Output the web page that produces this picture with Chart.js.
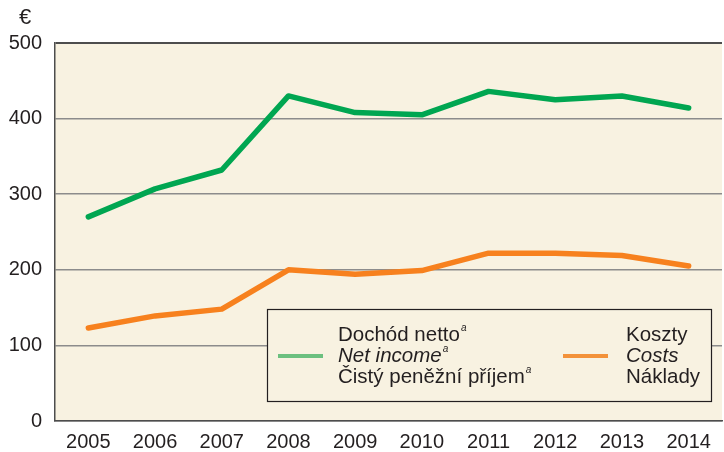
<!DOCTYPE html>
<html>
<head>
<meta charset="utf-8">
<script src="https://cdn.jsdelivr.net/npm/chart.js@4"></script>
<style>
  html, body { margin: 0; padding: 0; background: #fff; }
  #wrap { width: 724px; height: 452px; }
</style>
</head>
<body>
<div id="wrap"><canvas id="chart"></canvas></div>
<script>
// Dane
const years = ['2005', '2006', '2007', '2008', '2009', '2010', '2011', '2012', '2013', '2014'];
const netIncome = [270, 307, 332, 430, 408, 405, 436, 425, 430, 414];
const costs = [123, 139, 148, 200, 194, 199, 222, 222, 219, 205];
const yTicks = [0, 100, 200, 300, 400, 500];

const textColor = '#231f20';
const bgColor = '#f8f2e1';
const greenColor = '#00a651';
const orangeColor = '#f7811e';
const fontName = '"Liberation Sans", Arial, sans-serif';

// tło obszaru wykresu + symbol waluty
const backgroundPlugin = {
  id: 'background',
  beforeDraw(chart) {
    const { ctx, chartArea } = chart;
    ctx.save();
    ctx.fillStyle = bgColor;
    ctx.fillRect(chartArea.left, chartArea.top, chartArea.right - chartArea.left, chartArea.bottom - chartArea.top);
    ctx.fillStyle = textColor;
    ctx.font = '22px ' + fontName;
    ctx.textAlign = 'center';
    ctx.textBaseline = 'middle';
    ctx.fillText('€', 25, chartArea.top - 25);
    ctx.restore();
  }
};

// legenda w ramce (rysowana ręcznie)
function drawSup(ctx, x, y, text) {
  ctx.save();
  ctx.font = 'italic 10px ' + fontName;
  ctx.fillText(text, x + 1, y - 10);
  ctx.restore();
}

const legendPlugin = {
  id: 'boxLegend',
  afterDatasetsDraw(chart) {
    const { ctx, chartArea } = chart;
    const left = chartArea.left + 212, top = chartArea.top + 266;
    const w = 444, h = 92;
    ctx.save();
    ctx.fillStyle = bgColor;
    ctx.fillRect(left, top, w, h);
    ctx.strokeStyle = '#231f20';
    ctx.lineWidth = 1.2;
    ctx.strokeRect(left + 0.5, top + 0.5, w, h);

    ctx.lineWidth = 4;
    ctx.strokeStyle = '#6cc07f';
    ctx.beginPath();
    ctx.moveTo(left + 11, top + 47);
    ctx.lineTo(left + 56, top + 47);
    ctx.stroke();
    ctx.strokeStyle = '#f3923a';
    ctx.beginPath();
    ctx.moveTo(left + 296, top + 47);
    ctx.lineTo(left + 341, top + 47);
    ctx.stroke();

    ctx.fillStyle = textColor;
    ctx.textAlign = 'left';
    ctx.textBaseline = 'alphabetic';
    const x1 = left + 71, x2 = left + 359;
    const b = [top + 32, top + 53, top + 74];
    const sz = '20.5px ';
    ctx.font = sz + fontName;
    ctx.fillText('Dochód netto', x1, b[0]);
    drawSup(ctx, x1 + ctx.measureText('Dochód netto').width, b[0], 'a');
    ctx.font = 'italic ' + sz + fontName;
    ctx.fillText('Net income', x1, b[1]);
    drawSup(ctx, x1 + ctx.measureText('Net income').width, b[1], 'a');
    ctx.font = sz + fontName;
    ctx.fillText('Čistý peněžní příjem', x1, b[2]);
    drawSup(ctx, x1 + ctx.measureText('Čistý peněžní příjem').width, b[2], 'a');

    ctx.fillText('Koszty', x2, b[0]);
    ctx.font = 'italic ' + sz + fontName;
    ctx.fillText('Costs', x2, b[1]);
    ctx.font = sz + fontName;
    ctx.fillText('Náklady', x2, b[2]);
    ctx.restore();
  }
};

const chart = new Chart(document.getElementById('chart'), {
  type: 'line',
  data: {
    labels: years,
    datasets: [
      {
        label: 'Net income',
        data: netIncome,
        borderColor: greenColor,
        borderWidth: 5.5,
        borderCapStyle: 'round',
        borderJoinStyle: 'round',
        pointRadius: 0,
        tension: 0
      },
      {
        label: 'Costs',
        data: costs,
        borderColor: orangeColor,
        borderWidth: 5.5,
        borderCapStyle: 'round',
        borderJoinStyle: 'round',
        pointRadius: 0,
        tension: 0
      }
    ]
  },
  options: {
    responsive: true,
    maintainAspectRatio: false,
    animation: false,
    layout: { padding: { top: 43, right: 2, left: 0, bottom: 0 } },
    plugins: {
      legend: { display: false },
      tooltip: { enabled: false }
    },
    scales: {
      x: {
        offset: true,
        grid: { display: false, drawTicks: false },
        border: { display: true, color: '#4d4d4d', width: 1.5 },
        ticks: {
          color: textColor,
          font: { family: fontName, size: 20 },
          padding: 9,
          maxRotation: 0,
          autoSkip: false
        },
        afterFit(scale) { scale.height = 31; }
      },
      y: {
        min: 0,
        max: 500,
        afterBuildTicks(scale) {
          scale.ticks = yTicks.map(v => ({ value: v }));
        },
        grid: {
          drawTicks: false,
          color: ctx => (ctx.tick && (ctx.tick.value === 500) ? '#4d4d4d' : '#8c8c8c'),
          lineWidth: ctx => (ctx.tick && ctx.tick.value === 500 ? 2 : 1.5)
        },
        border: { display: true, color: '#4d4d4d', width: 1.5 },
        ticks: {
          color: textColor,
          font: { family: fontName, size: 20 },
          padding: 13
        },
        afterFit(scale) { scale.width = 55; }
      }
    }
  },
  plugins: [backgroundPlugin, legendPlugin]
});
</script>
</body>
</html>
